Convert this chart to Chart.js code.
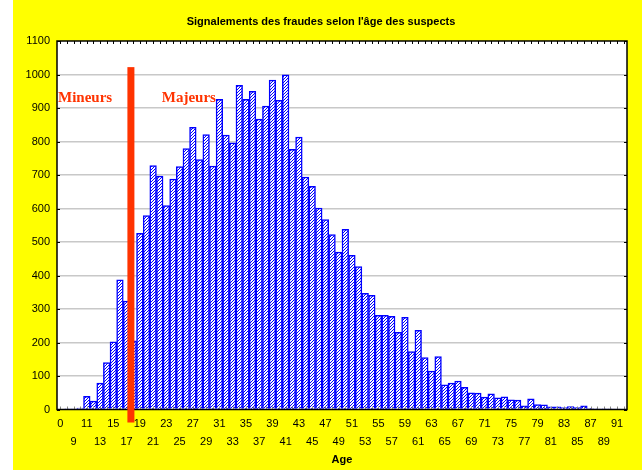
<!DOCTYPE html>
<html lang="fr">
<head>
<meta charset="UTF-8">
<title>Signalements des fraudes</title>
<script src="https://cdn.jsdelivr.net/npm/chart.js"></script>
<style>
    body { margin: 0; background: #fff; }
</style>
</head>
<body>
<canvas id="graficoFraudes" width="642" height="470"></canvas>

<script>
    // ages (categories) and number of reports per age
    const ages = ['0', '8', '9', '10', '11', '12', '13', '14', '15', '16', '17', '18', '19', '20',
        '21', '22', '23', '24', '25', '26', '27', '28', '29', '30', '31', '32', '33', '34', '35',
        '36', '37', '38', '39', '40', '41', '42', '43', '44', '45', '46', '47', '48', '49', '50',
        '51', '52', '53', '54', '55', '56', '57', '58', '59', '60', '61', '62', '63', '64', '65',
        '66', '67', '68', '69', '70', '71', '72', '73', '74', '75', '76', '77', '78', '79', '80',
        '81', '82', '83', '84', '85', '86', '87', '88', '89', '90', '91', '92'];

    const signalements = [0, 1, 2, 4, 39, 25, 79, 140, 202, 387, 324, 205, 526, 579,
        728, 697, 609, 688, 725, 779, 842, 746, 821, 727, 926, 819, 796, 968, 926,
        950, 867, 906, 983, 923, 999, 777, 813, 694, 666, 601, 567, 522, 470, 538,
        460, 427, 347, 341, 281, 281, 278, 230, 275, 173, 236, 155, 115, 158, 74,
        79, 85, 66, 50, 49, 37, 47, 35, 38, 29, 28, 11, 32, 15, 14,
        8, 8, 6, 9, 6, 11, 3, 2, 2, 1, 1, 0];

    const yTicks = [0, 100, 200, 300, 400, 500, 600, 700, 800, 900, 1000, 1100];

    const titulo = "Signalements des fraudes selon l'âge des suspects";
    const vermelho = '#ff3300';

    const ctx = document.getElementById('graficoFraudes').getContext('2d');

    // blue diagonal hatch for the bars
    function criarHachura() {
        const c = document.createElement('canvas');
        c.width = 3;
        c.height = 3;
        const g = c.getContext('2d');
        g.fillStyle = '#ffffff';
        g.fillRect(0, 0, 3, 3);
        g.fillStyle = '#0000ff';
        g.fillRect(2, 0, 1, 1);
        g.fillRect(1, 1, 1, 1);
        g.fillRect(0, 2, 1, 1);
        return ctx.createPattern(c, 'repeat');
    }

    const fundo = {
        id: 'fundo',
        beforeDraw(chart) {
            const c = chart.ctx, a = chart.chartArea;
            c.save();
            c.fillStyle = '#ffff00';
            c.fillRect(13, 0, chart.width - 13, chart.height);
            c.fillStyle = '#ffffff';
            c.fillRect(a.left, a.top, a.right - a.left, a.bottom - a.top);
            c.fillStyle = '#000';
            c.font = 'bold 11px "Liberation Sans", Arial, sans-serif';
            c.textAlign = 'center';
            c.textBaseline = 'middle';
            c.fillText(titulo, 321, 22);
            c.restore();
        },
        afterDatasetsDraw(chart) {
            const c = chart.ctx, a = chart.chartArea;
            const xs = chart.scales.x, ys = chart.scales.y;
            c.save();
            // small inside ticks
            c.strokeStyle = '#000';
            c.lineWidth = 1;
            c.beginPath();
            ages.forEach((ag, i) => {
                const px = Math.round(xs.getPixelForValue(i)) + 0.5;
                c.moveTo(px, a.top);
                c.lineTo(px, a.top + 3);
            });
            yTicks.forEach(v => {
                const py = Math.round(ys.getPixelForValue(v)) + 0.5;
                c.moveTo(a.left, py);
                c.lineTo(a.left + 3, py);
                c.moveTo(a.right, py);
                c.lineTo(a.right - 3, py);
            });
            c.stroke();
            c.strokeStyle = '#888';
            c.beginPath();
            ages.forEach((ag, i) => {
                const px = Math.round(xs.getPixelForValue(i)) + 0.5;
                c.moveTo(px, a.bottom);
                c.lineTo(px, a.bottom - 3);
            });
            c.stroke();
            // frame
            c.strokeStyle = '#000';
            c.lineWidth = 1.5;
            c.strokeRect(a.left, a.top, a.right - a.left, a.bottom - a.top);

            // line between minors and adults
            const x17 = xs.getPixelForValue(ages.indexOf('17'));
            const x18 = xs.getPixelForValue(ages.indexOf('18'));
            const xm = (x17 + x18) / 2 + 1;
            const topo = ys.getPixelForValue(1022);
            c.fillStyle = vermelho;
            c.fillRect(xm - 3.5, topo, 7, a.bottom + 13 - topo);

            c.font = 'bold 15px "Liberation Serif", "Times New Roman", serif';
            c.textBaseline = 'middle';
            c.textAlign = 'left';
            const yTexto = ys.getPixelForValue(928);
            c.fillText('Mineurs', a.left + 1, yTexto);
            c.fillText('Majeurs', xs.getPixelForValue(ages.indexOf('22')) + 2, yTexto);
            c.restore();
        }
    };

    new Chart(ctx, {
        type: 'bar',
        data: {
            labels: ages,
            datasets: [{
                data: signalements,
                backgroundColor: criarHachura(),
                borderColor: '#0000ff',
                borderWidth: 1.5,
                categoryPercentage: 1,
                barPercentage: 1
            }]
        },
        options: {
            responsive: false,
            animation: false,
            layout: {
                padding: { left: 0, right: 15, top: 41, bottom: 0 }
            },
            plugins: {
                legend: { display: false },
                tooltip: { enabled: false }
            },
            scales: {
                x: {
                    grid: { display: false, drawTicks: false },
                    border: { display: false },
                    ticks: {
                        autoSkip: false,
                        maxRotation: 0,
                        minRotation: 0,
                        padding: 6,
                        color: '#000',
                        font: { family: '"Liberation Sans", Arial, sans-serif', size: 11, lineHeight: 1.6 },
                        callback: function (value, index) {
                            if (index % 4 === 0) return ages[index];
                            if (index % 4 === 2) return ['', ages[index]];
                            return '';
                        }
                    },
                    title: {
                        display: true,
                        text: 'Age',
                        color: '#000',
                        font: { family: '"Liberation Sans", Arial, sans-serif', size: 11, weight: 'bold' },
                        padding: { top: 0, bottom: 3.4 }
                    },
                    afterFit: function (s) { s.height = 60.5; }
                },
                y: {
                    min: 0,
                    max: 1100,
                    grid: {
                        color: function (c) {
                            return (c.tick.value === 0 || c.tick.value === 1100) ? 'rgba(0,0,0,0)' : '#c8c8c8';
                        },
                        lineWidth: 1.5,
                        drawTicks: false
                    },
                    border: { display: false },
                    ticks: {
                        stepSize: 100,
                        padding: 7,
                        color: '#000',
                        font: { family: '"Liberation Sans", Arial, sans-serif', size: 11 },
                        callback: function (value) { return String(value); }
                    },
                    afterFit: function (s) { s.width = 57; }
                }
            }
        },
        plugins: [fundo]
    });
</script>
</body>
</html>
